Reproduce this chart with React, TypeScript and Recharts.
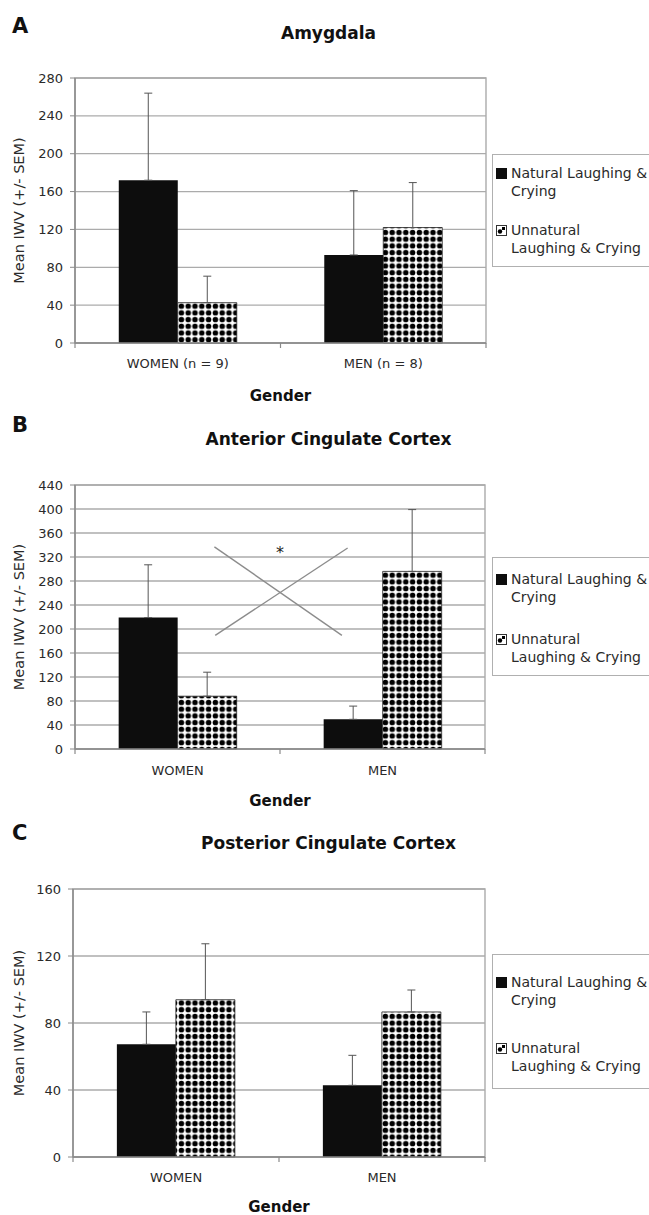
import React, { useLayoutEffect } from 'react';
import {
  ComposedChart,
  Bar,
  Scatter,
  XAxis,
  YAxis,
  CartesianGrid,
  ErrorBar,
  ReferenceArea,
  ReferenceDot,
} from 'recharts';

// ---------- data ----------
const seriesNames = ['Natural Laughing & Crying', 'Unnatural Laughing & Crying'];
const legendLines = [
  ['Natural Laughing &', 'Crying'],
  ['Unnatural', 'Laughing & Crying'],
];

const categoriesA = ['WOMEN (n = 9)', 'MEN (n = 8)'];
const categoriesBC = ['WOMEN', 'MEN'];

const naturalA = [172, 93];
const naturalErrA = [92, 68];
const unnaturalA = [42.6, 122];
const unnaturalErrA = [28, 47.5];
const ticksA = [0, 40, 80, 120, 160, 200, 240, 280];

const naturalB = [219, 49.5];
const naturalErrB = [88, 22];
const unnaturalB = [88, 296];
const unnaturalErrB = [40, 103];
const ticksB = [0, 40, 80, 120, 160, 200, 240, 280, 320, 360, 400, 440];
// significance cross (x in category units 0..2, y in data units)
const crossLine1B = [
  { x: 0.68, y: 337 },
  { x: 1.302, y: 189.5 },
];
const crossLine2B = [
  { x: 0.684, y: 189.5 },
  { x: 1.33, y: 335 },
];
const starB = { x: 1.0, y: 328, text: '*' };

const naturalC = [67.3, 42.8];
const naturalErrC = [19.3, 17.9];
const unnaturalC = [93.9, 86.6];
const unnaturalErrC = [33.4, 13.1];
const ticksC = [0, 40, 80, 120, 160];

function buildRows(cats: string[], nat: number[], natErr: number[], un: number[], unErr: number[]) {
  return cats.map((name, i) => ({
    name,
    natural: nat[i],
    naturalErr: natErr[i],
    unnatural: un[i],
    unnaturalErr: unErr[i],
  }));
}

const GRID = '#ababab';
const AXIS = '#8a8a8a';
const TEXT = '#2a2a2a';
const CHART_W = 641;

type PanelCfg = {
  id: string;
  top: number;
  letter: string;
  letterBaseline: number;
  title: string;
  titleBaseline: number;
  rows: any[];
  ticks: number[];
  max: number;
  marginTop: number;
  plotHeight: number;
  axisWidth: number;
  rightMargin: number;
  xAxisHeight: number;
  tickMargin: number;
  legend: { top: number; height: number; padTop: number; gap: number };
  cross?: { x: number; y: number }[][];
  star?: typeof starB;
};

const panels: PanelCfg[] = [
  {
    id: 'A',
    top: 0,
    letter: 'A',
    letterBaseline: 25.3,
    title: 'Amygdala',
    titleBaseline: 31.3,
    rows: buildRows(categoriesA, naturalA, naturalErrA, unnaturalA, unnaturalErrA),
    ticks: ticksA,
    max: 280,
    marginTop: 70,
    plotHeight: 265,
    axisWidth: 67,
    rightMargin: 163,
    xAxisHeight: 58,
    tickMargin: 15.5,
    legend: { top: 146, height: 113, padTop: 9, gap: 21 },
  },
  {
    id: 'B',
    top: 403,
    letter: 'B',
    letterBaseline: 20.7,
    title: 'Anterior Cingulate Cortex',
    titleBaseline: 34,
    rows: buildRows(categoriesBC, naturalB, naturalErrB, unnaturalB, unnaturalErrB),
    ticks: ticksB,
    max: 440,
    marginTop: 74,
    plotHeight: 264,
    axisWidth: 67,
    rightMargin: 164,
    xAxisHeight: 57,
    tickMargin: 16.4,
    legend: { top: 146, height: 119, padTop: 12, gap: 24 },
    cross: [crossLine1B, crossLine2B],
    star: starB,
  },
  {
    id: 'C',
    top: 804,
    letter: 'C',
    letterBaseline: 28,
    title: 'Posterior Cingulate Cortex',
    titleBaseline: 37,
    rows: buildRows(categoriesBC, naturalC, naturalErrC, unnaturalC, unnaturalErrC),
    ticks: ticksC,
    max: 160,
    marginTop: 77,
    plotHeight: 268,
    axisWidth: 65,
    rightMargin: 164,
    xAxisHeight: 55,
    tickMargin: 15.5,
    legend: { top: 142, height: 135, padTop: 18, gap: 30 },
  },
];

function DotPattern({ id }: { id: string }) {
  return (
    <pattern id={id} patternUnits="userSpaceOnUse" width={6.8} height={6.7}>
      <rect x={0} y={0} width={6.8} height={6.7} fill="#ffffff" />
      <circle cx={3.4} cy={3.35} r={2.75} fill="#000000" />
    </pattern>
  );
}

function LegendBox({ cfg }: { cfg: PanelCfg }) {
  const lg = cfg.legend;
  return (
    <div
      style={{
        position: 'absolute',
        left: 484,
        top: lg.top,
        width: 200,
        height: lg.height,
        boxSizing: 'border-box',
        border: '1px solid #b0b0b0',
        paddingTop: lg.padTop,
        background: '#fff',
      }}
    >
      {legendLines.map((lines, i) => (
        <div
          key={seriesNames[i]}
          style={{
            position: 'relative',
            paddingLeft: 18,
            marginTop: i ? lg.gap : 0,
            lineHeight: '18px',
            fontSize: 14,
            color: TEXT,
            whiteSpace: 'nowrap',
          }}
        >
          <svg width={11} height={11} style={{ position: 'absolute', left: 3, top: 4 }}>
            {i === 0 ? (
              <rect x={0} y={0} width={11} height={11} fill="#0d0d0d" />
            ) : (
              <g>
                <rect x={0.5} y={0.5} width={10} height={10} fill="#fff" stroke="#333" />
                <circle cx={4} cy={6.5} r={2.2} fill="#000" />
                <rect x={6} y={2} width={3} height={3} fill="#000" />
              </g>
            )}
          </svg>
          {lines.map((l) => (
            <div key={l}>{l}</div>
          ))}
        </div>
      ))}
    </div>
  );
}

function makeXTick(halfBand: number, tickMargin: number, count: number) {
  return (props: any) => {
    const { x, y, payload, index } = props;
    const axisY = y - tickMargin;
    return (
      <g>
        <line x1={x - halfBand} y1={axisY} x2={x - halfBand} y2={axisY + 5} stroke={AXIS} strokeWidth={1.2} />
        {index === count - 1 && (
          <line x1={x + halfBand} y1={axisY} x2={x + halfBand} y2={axisY + 5} stroke={AXIS} strokeWidth={1.2} />
        )}
        <text x={x} y={y} dy="0.71em" textAnchor="middle" fontSize={13} fill={TEXT}>
          {payload.value}
        </text>
      </g>
    );
  };
}

const hiddenShape = () => <g />;

function Panel({ cfg }: { cfg: PanelCfg }) {
  const chartHeight = cfg.marginTop + cfg.plotHeight + cfg.xAxisHeight + 6;
  const patId = `dots${cfg.id}`;
  const halfBand = (CHART_W - cfg.rightMargin - cfg.axisWidth) / cfg.rows.length / 2;
  return (
    <div style={{ position: 'absolute', left: 0, top: cfg.top, width: CHART_W, height: chartHeight }}>
      <ComposedChart
        width={CHART_W}
        height={chartHeight}
        data={cfg.rows}
        margin={{ top: cfg.marginTop, right: cfg.rightMargin, bottom: 6, left: 0 }}
        barCategoryGap="21.3%"
        barGap={0}
      >
        <defs>
          <DotPattern id={patId} />
        </defs>
        <CartesianGrid vertical={false} stroke={GRID} strokeWidth={1.3} />
        <ReferenceArea y1={0} y2={cfg.max} fill="none" stroke={GRID} strokeWidth={1.4} fillOpacity={0} />
        <XAxis
          dataKey="name"
          interval={0}
          tickLine={false}
          tickSize={0}
          tickMargin={cfg.tickMargin}
          axisLine={{ stroke: AXIS, strokeWidth: 1.5 }}
          tick={makeXTick(halfBand, cfg.tickMargin, cfg.rows.length)}
          height={cfg.xAxisHeight}
          label={{
            value: 'Gender',
            position: 'insideBottom',
            offset: 0,
            fontSize: 15,
            fontWeight: 'bold',
            fill: '#111',
          }}
        />
        {cfg.cross && (
          <XAxis xAxisId="frac" type="number" dataKey="x" domain={[0, 2]} allowDataOverflow hide />
        )}
        <YAxis
          width={cfg.axisWidth}
          domain={[0, cfg.max]}
          ticks={cfg.ticks}
          interval={0}
          tickSize={5}
          tickMargin={7}
          stroke={AXIS}
          axisLine={{ stroke: AXIS, strokeWidth: 1.5 }}
          tick={{ fill: TEXT, fontSize: 13 }}
          label={{
            value: 'Mean IWV (+/- SEM)',
            angle: -90,
            position: 'insideLeft',
            offset: 10.5,
            style: { textAnchor: 'middle' },
            fontSize: 14.5,
            fill: TEXT,
          }}
        />
        <Bar dataKey="natural" name={seriesNames[0]} fill="#0d0d0d" isAnimationActive={false}>
          <ErrorBar
            dataKey={(d: any) => [0, d.naturalErr]}
            direction="y"
            width={4}
            stroke="#555"
            strokeWidth={1}
          />
        </Bar>
        <Bar
          dataKey="unnatural"
          name={seriesNames[1]}
          fill={`url(#${patId})`}
          stroke="#222"
          strokeWidth={0.8}
          isAnimationActive={false}
        >
          <ErrorBar
            dataKey={(d: any) => [0, d.unnaturalErr]}
            direction="y"
            width={4}
            stroke="#555"
            strokeWidth={1}
          />
        </Bar>
        {cfg.cross &&
          cfg.cross.map((pts, i) => (
            <Scatter
              key={i}
              xAxisId="frac"
              data={pts}
              dataKey="y"
              line={{ stroke: '#8c8c8c', strokeWidth: 1.4 }}
              lineType="joint"
              shape={hiddenShape}
              legendType="none"
              isAnimationActive={false}
            />
          ))}
        {cfg.star && (
          <ReferenceDot
            xAxisId="frac"
            x={cfg.star.x}
            y={cfg.star.y}
            r={0}
            stroke="none"
            fill="none"
            label={{ value: cfg.star.text, position: 'center', fontSize: 16, fill: '#222' }}
          />
        )}
      </ComposedChart>
      <svg
        width={CHART_W}
        height={60}
        style={{ position: 'absolute', left: 0, top: 0, pointerEvents: 'none' }}
      >
        <text x={4} y={cfg.letterBaseline} fontSize={21} fontWeight="bold" fill="#111">
          {cfg.letter}
        </text>
        <text
          x={320.5}
          y={cfg.titleBaseline}
          fontSize={17}
          fontWeight="bold"
          fill="#111"
          textAnchor="middle"
        >
          {cfg.title}
        </text>
      </svg>
      <LegendBox cfg={cfg} />
    </div>
  );
}

export default function App() {
  useLayoutEffect(() => {
    // let the page content use the full 649px window width
    document.body.style.margin = '0';
  }, []);
  return (
    <div style={{ width: 649, height: 1215, padding: 8, boxSizing: 'border-box', background: '#fff' }}>
      <div
        style={{
          position: 'relative',
          width: CHART_W,
          height: 1207,
          overflow: 'hidden',
          background: '#fff',
          fontFamily: '"DejaVu Sans", sans-serif',
        }}
      >
        {panels.map((p) => (
          <Panel key={p.id} cfg={p} />
        ))}
      </div>
    </div>
  );
}
